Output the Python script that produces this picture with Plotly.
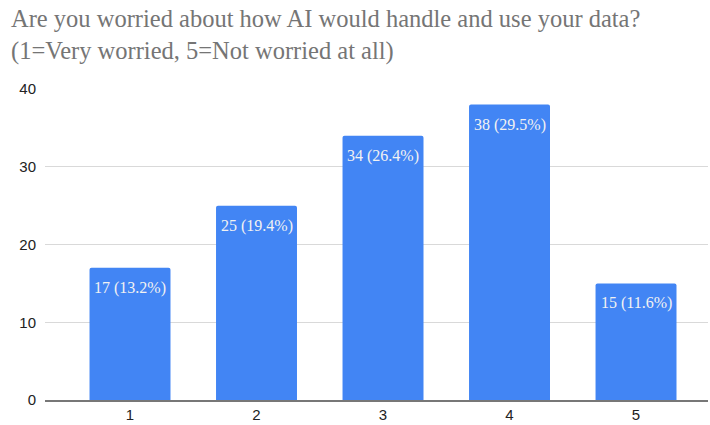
import plotly.graph_objects as go

categories = ["1", "2", "3", "4", "5"]
counts = [17, 25, 34, 38, 15]
percents = ["13.2%", "19.4%", "26.4%", "29.5%", "11.6%"]
y_ticks = [0, 10, 20, 30, 40]
title_lines = ["Are you worried about how AI would handle and use your data?",
               "(1=Very worried, 5=Not worried at all)"]

labels = [f"{c} ({p})" for c, p in zip(counts, percents)]

fig = go.Figure()
fig.add_trace(go.Bar(
    x=list(range(len(categories))),
    y=counts,
    marker=dict(color="#4285F4", line=dict(width=0)),
    width=0.64,
    hoverinfo="skip",
))

for i, (c, lab) in enumerate(zip(counts, labels)):
    fig.add_annotation(
        x=i, y=c, text=lab, showarrow=False,
        xanchor="center", yanchor="top", yshift=-9,
        font=dict(family="Liberation Serif", size=16, color="#F2F2F2"),
    )

fig.add_annotation(
    xref="paper", yref="paper", x=-0.055, y=1.2765,
    xanchor="left", yanchor="top", align="left", showarrow=False,
    text="<br>".join(title_lines),
    font=dict(family="Liberation Serif", size=24.5, color="#757575"),
)

fig.update_layout(
    width=710, height=425,
    margin=dict(l=45, r=2, t=89, b=25),
    paper_bgcolor="white", plot_bgcolor="white",
    barcornerradius=2,
    showlegend=False,
    xaxis=dict(
        tickmode="array", tickvals=list(range(len(categories))), ticktext=categories,
        range=[-0.672, 4.569], showgrid=False, zeroline=False,
        showline=True, linecolor="#777777", linewidth=1.5,
        ticks="", tickfont=dict(family="Liberation Sans", size=15, color="#222222"),
        fixedrange=True,
    ),
    yaxis=dict(
        tickmode="array", tickvals=y_ticks, range=[0, 40],
        showgrid=True, gridcolor="#D9D9D9", gridwidth=1, zeroline=False,
        ticks="", ticklabelstandoff=8,
        tickfont=dict(family="Liberation Sans", size=15, color="#222222"),
        fixedrange=True,
    ),
)

fig.write_html("out.html")
